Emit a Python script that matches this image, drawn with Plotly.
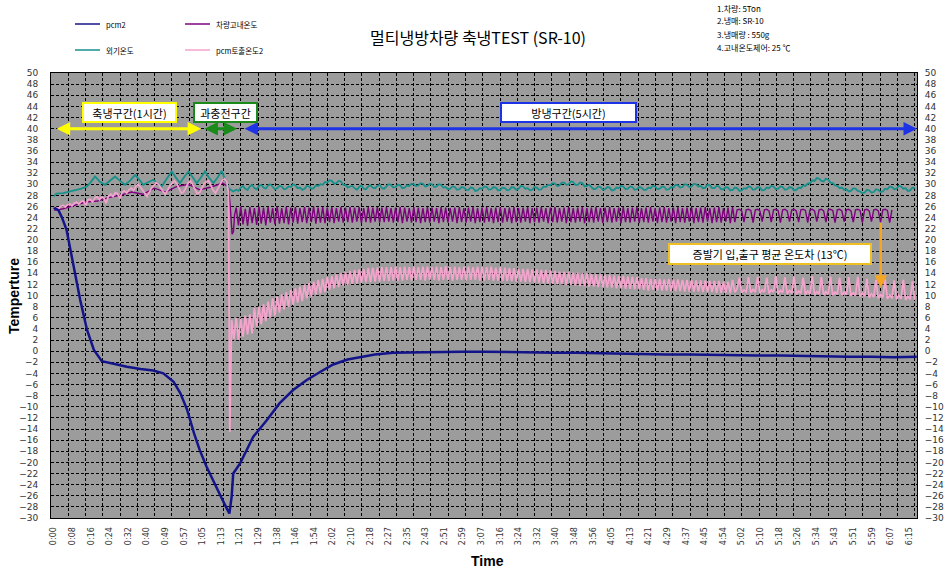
import plotly.graph_objects as go

# ---------------- data (time in minutes) ----------------
x_tick_labels = ["0:00","0:08","0:16","0:24","0:32","0:40","0:49","0:57","1:05","1:13","1:21","1:29",
                 "1:38","1:46","1:54","2:02","2:10","2:18","2:27","2:35","2:43","2:51","2:59","3:07",
                 "3:16","3:24","3:32","3:40","3:48","3:56","4:05","4:13","4:21","4:29","4:37","4:45",
                 "4:54","5:02","5:10","5:18","5:26","5:34","5:43","5:51","5:59","6:07","6:15"]
x_tick_minutes = [i * 490 / 60 for i in range(len(x_tick_labels))]
y_ticks = list(range(-30, 51, 2))

# pcm2 (navy)
pcm2_t = [0, 0.6, 2.1, 3.6, 5.6, 8.6, 11.6, 14.6, 17.6, 21.1, 26.1, 32.1, 38.1, 43.6, 48.1, 52.6, 55.6,
          58.6, 61.6, 64.1, 67.1, 70.1, 73.1, 75.6, 77.1, 78.1, 78.8, 81.8, 87.6, 93.6, 99.1, 105.1,
          111.1, 117.1, 122.7, 129, 135, 141, 149, 159, 169, 179, 189, 199, 209, 219, 229, 239, 249,
          259, 269, 279, 289, 299, 309, 319, 329, 339, 349, 359, 369, 379]
pcm2_v = [25.5, 25.7, 25.3, 24.0, 21.8, 15.2, 9.2, 3.8, 0.2, -1.8, -2.3, -2.8, -3.2, -3.5, -4.0, -5.5,
          -7.6, -10.6, -14.8, -17.8, -20.8, -23.5, -25.9, -28.0, -29.2, -26.2, -22.0, -20.2, -15.4,
          -12.4, -9.4, -7.0, -5.2, -3.7, -2.4, -1.5, -1.0, -0.6, -0.3, -0.2, -0.1, -0.1, -0.1, -0.2,
          -0.2, -0.3, -0.3, -0.4, -0.5, -0.5, -0.6, -0.6, -0.7, -0.7, -0.8, -0.8, -0.9, -0.9, -1.0,
          -1.0, -1.1, -1.0]

# 외기온도 (teal)
outdoor_t1 = [0, 1.1, 4.1, 7.1, 10.1, 12.1, 14.5, 16.1, 18.1, 20.1, 22.5, 24.6, 26.9, 29.1, 31.3, 33.6,
              35.7, 37.6, 39.3, 41.6, 43.7, 45.6, 47.4, 49.6, 51.8, 53.6, 55.4, 57.1, 59.1, 61.1, 62.8,
              64.6, 66.4, 68.1, 70.1, 72.1, 73.7, 75.1, 76.7, 78.8]
outdoor_v1 = [27.8, 28.3, 28.4, 28.7, 29.0, 29.2, 29.6, 30.3, 31.4, 30.5, 29.9, 30.6, 31.4, 30.6, 29.9,
              30.7, 31.7, 30.8, 29.9, 30.4, 30.8, 30.2, 29.6, 31.0, 32.3, 31.2, 30.2, 31.2, 32.3, 31.2,
              30.2, 31.2, 32.3, 31.2, 30.2, 31.3, 32.4, 31.0, 29.3, 28.7]
outdoor_start2, outdoor_step2 = 80.1, 1
outdoor_v2 = [29.0, 28.8, 29.4, 29.7, 29.2, 29.0, 29.6, 29.9, 29.3, 29.1, 29.7, 29.9, 29.4, 29.2, 29.8, 30.0, 29.5, 29.1, 29.3, 29.7,
              29.6, 29.1, 29.2, 29.6, 29.5, 30.0, 29.8, 29.3, 29.4, 29.0, 29.2, 29.7, 29.6, 29.2, 29.3, 29.8, 29.7, 30.0, 29.9, 30.4,
              30.3, 30.7, 30.6, 30.1, 30.2, 30.6, 30.5, 29.9, 29.9, 29.4, 29.6, 29.7, 29.3, 29.0, 29.5, 29.8, 29.2, 29.1, 29.6, 29.8,
              29.4, 29.3, 29.7, 29.9, 29.3, 29.2, 29.6, 30.0, 29.9, 29.4, 29.5, 29.9, 29.8, 29.3, 29.4, 29.8, 29.7, 30.1, 30.0, 29.7,
              29.8, 30.2, 30.1, 29.6, 29.7, 30.1, 30.0, 29.5, 29.6, 30.0, 29.9, 29.4, 29.5, 29.1, 29.2, 29.6, 29.5, 29.0, 29.1, 29.5,
              29.4, 29.0, 29.0, 29.4, 29.3, 28.8, 28.9, 29.3, 29.2, 29.6, 29.5, 29.0, 29.1, 29.5, 29.4, 28.9, 29.0, 29.4, 29.3, 28.9,
              29.0, 29.5, 29.4, 29.0, 29.2, 29.7, 29.6, 29.2, 29.3, 28.9, 29.0, 29.5, 29.4, 29.0, 29.1, 29.6, 29.5, 29.9, 29.8, 30.2,
              30.1, 29.7, 29.8, 30.3, 30.3, 29.9, 30.0, 30.5, 30.4, 29.9, 29.9, 30.3, 30.2, 29.6, 29.7, 29.9, 29.5, 29.1, 29.2, 29.6,
              29.5, 29.0, 29.1, 29.5, 29.4, 28.9, 29.0, 29.4, 29.3, 29.7, 29.6, 29.1, 29.2, 29.6, 29.5, 29.0, 29.1, 29.5, 29.4, 29.0,
              29.0, 29.4, 29.3, 29.7, 29.6, 29.1, 29.2, 29.6, 29.5, 29.0, 29.1, 29.5, 29.4, 29.9, 29.8, 29.4, 29.5, 30.0, 29.9, 29.5,
              29.6, 30.1, 30.0, 29.6, 29.7, 29.3, 29.4, 29.9, 29.8, 29.3, 29.3, 29.7, 29.6, 29.1, 29.1, 29.5, 29.4, 28.9, 29.0, 29.4,
              29.3, 28.8, 28.9, 29.3, 29.2, 29.6, 29.5, 29.0, 29.1, 29.5, 29.4, 28.9, 29.0, 29.4, 29.3, 29.7, 29.6, 29.1, 29.2, 29.6,
              29.5, 29.0, 29.1, 29.5, 29.4, 28.9, 29.0, 29.4, 29.3, 29.8, 29.7, 30.1, 30.2, 30.7, 30.6, 31.1, 31.0, 30.6, 30.5, 31.0,
              30.8, 30.3, 30.2, 29.8, 29.7, 29.3, 29.4, 29.0, 29.1, 28.7, 28.8, 29.3, 29.2, 28.8, 28.7, 28.4, 28.5, 29.0, 28.9, 28.5,
              28.6, 29.1, 29.0, 28.6, 28.7, 29.2, 29.1, 29.6, 29.5, 29.1, 29.2, 29.7, 29.6, 29.2, 29.3, 28.8, 28.9, 29.4, 29.3]

# pcm토출온도2 (pink)
pink_start1 = 0
pink_v1 = [25.4, 25.8, 25.6, 26.0, 26.2, 25.9, 26.3, 26.5, 26.1, 26.6, 26.8, 26.4, 26.9, 27.0, 26.2,
           27.2, 27.3, 26.8, 27.5, 27.8, 27.2, 27.7, 27.5, 26.6, 27.9, 28.2, 27.8, 28.5, 28.3, 27.4,
           28.6, 28.8, 28.4, 29.0, 29.3, 28.9, 29.6, 30.0, 29.5, 28.9, 28.4, 27.8, 28.6, 29.4, 29.8,
           30.3, 30.0, 29.3, 28.7, 28.2, 29.0, 29.7, 30.2, 30.6, 30.1, 29.2, 28.4, 28.6, 29.5, 30.2,
           30.6, 30.0, 29.1, 28.3, 28.5, 29.4, 30.1, 30.5, 30.6, 29.8, 28.9, 28.4, 29.2, 30.1, 30.7,
           31.0, 30.4]
pink_drop_t = [76.7, 77.3]
pink_drop_v = [28.5, -14.5]
pink_start2 = 78.1
pink_v2 = [5.6, 2.2, 6.0, 2.0, 5.8, 2.6, 6.4, 3.0, 6.6, 3.2,
           7.7, 4.4, 8.0, 4.8, 8.4, 5.4, 8.9, 6.0, 9.5, 6.3,
           9.8, 6.9, 10.2, 7.5, 10.6, 7.9, 11.0, 8.3, 11.3, 8.7,
           11.6, 9.0, 11.9, 9.5, 12.2, 9.8, 12.5, 10.2, 12.8, 10.4,
           13.0, 10.6, 13.3, 11.0, 13.5, 11.3, 13.8, 11.5, 14.0, 11.8,
           14.2, 11.9, 14.4, 12.1, 14.6, 12.2, 14.7, 12.3, 14.8, 12.4,
           14.9, 12.4, 15.0, 12.5, 15.0, 12.5, 15.1, 12.6, 15.1, 12.6,
           15.1, 12.7, 15.2, 12.6, 15.1, 12.7, 15.2, 12.8, 15.1, 12.7,
           15.2, 12.8, 15.1, 12.8, 15.2, 12.7, 15.2, 12.8, 15.1, 12.8,
           15.2, 12.7, 15.1, 12.8, 15.3, 12.8, 15.1, 12.7, 15.2, 12.8,
           15.1, 12.8, 15.2, 12.7, 15.2, 12.8, 15.1, 12.8, 15.2, 12.7,
           15.1, 12.7, 15.1, 12.8, 15.2, 12.7, 15.0, 12.7, 15.1, 12.6,
           15.0, 12.6, 14.9, 12.6, 14.9, 12.5, 14.8, 12.5, 14.8, 12.4,
           14.8, 12.4, 14.7, 12.3, 14.7, 12.3, 14.6, 12.2, 14.6, 12.2,
           14.5, 12.1, 14.4, 12.0, 14.3, 12.0, 14.3, 11.9, 14.2, 11.9,
           14.1, 11.8, 14.1, 11.7, 14.0, 11.7, 14.0, 11.6, 13.9, 11.6,
           13.8, 11.5, 13.8, 11.5, 13.7, 11.4, 13.7, 11.4, 13.6, 11.3,
           13.5, 11.3, 13.5, 11.2, 13.4, 11.2, 13.4, 11.1, 13.3, 11.1,
           13.1, 11.0, 13.1, 10.9, 13.0, 11.0, 13.0, 10.9, 13.0, 10.9,
           12.9, 10.9, 13.0, 10.8, 12.9, 10.8, 12.9, 10.8, 12.8, 10.7,
           12.8, 10.7, 12.8, 10.7, 12.7, 10.7, 12.7, 10.6, 12.7, 10.6,
           12.6, 10.6, 12.6, 10.5, 12.6, 10.5, 12.5, 10.5, 12.5, 10.4,
           12.8, 10.6, 11.2, 13.2, 10.5, 11.0, 10.7, 13.3, 10.5, 11.1,
           10.6, 13.4, 10.4, 11.0, 10.6, 13.2, 10.4, 11.0, 10.6, 13.5,
           10.3, 10.9, 10.5, 13.3, 10.3, 10.9, 10.4, 13.4, 10.2, 10.8,
           10.4, 13.2, 10.2, 10.8, 10.3, 13.5, 10.1, 10.7, 10.3, 13.3,
           10.1, 10.7, 10.2, 13.4, 10.0, 10.6, 10.2, 13.2, 10.0, 10.6,
           10.1, 13.3, 9.9, 10.5, 10.0, 13.4, 9.8, 10.4, 9.9, 13.0,
           9.6, 10.3, 9.7, 12.8, 9.5, 10.2, 9.6, 12.9, 9.4, 10.1,
           9.5, 12.7, 9.3, 10.0, 9.4, 12.8, 9.2, 9.9, 9.3, 12.6,
           9.2]

# 차량고내온도 (purple)
cabin_t1 = [0, 4.1, 9.1, 14.1, 19.1, 24.1, 29.1, 34.1, 39.1, 44.1, 49.1, 54.1, 59.1, 64.1, 69.1, 74.1,
            76.7, 77.5, 78.3, 78.9, 79.4]
cabin_v1 = [25.3, 25.6, 26.2, 26.8, 27.0, 27.6, 28.0, 28.6, 28.2, 29.3, 28.6, 29.6, 30.0, 29.0, 29.5,
            30.2, 29.5, 26.0, 21.0, 21.5, 24.5]
cabin_start2 = 80.1
cabin_v2 = [25.8, 22.6, 26.0, 22.8, 25.6, 22.5, 25.9, 23.0, 25.7, 22.7,
            26.0, 22.9, 25.8, 22.6, 25.9, 23.1, 25.7, 22.8, 26.0, 22.9,
            25.7, 23.0, 25.9, 22.8, 25.8, 23.1, 25.9, 22.9, 25.7, 23.2,
            25.9, 23.0, 25.8, 23.2, 26.0, 22.9, 25.8, 23.1, 25.9, 23.0,
            25.8, 23.2, 25.9, 23.0, 25.7, 23.3, 25.9, 23.1, 25.8, 23.2,
            25.9, 23.1, 25.8, 23.3, 25.9, 23.0, 25.7, 23.2, 25.9, 23.1,
            25.8, 23.3, 25.9, 23.1, 25.8, 23.2, 25.9, 23.3, 25.7, 23.1,
            25.8, 23.2, 25.9, 23.0, 25.8, 23.3, 25.7, 23.1, 25.9, 23.2,
            25.8, 23.0, 25.7, 23.2, 25.9, 23.1, 25.8, 23.3, 25.7, 23.0,
            25.9, 23.2, 25.8, 23.1, 25.7, 23.3, 25.8, 23.0, 25.9, 23.2,
            25.7, 23.1, 25.8, 23.3, 25.9, 23.0, 25.7, 23.2, 25.8, 23.1,
            25.9, 23.3, 25.7, 23.0, 25.8, 23.2, 25.9, 23.1, 25.7, 23.3,
            25.8, 23.0, 25.9, 23.2, 25.7, 23.1, 25.8, 23.3, 25.9, 23.0,
            25.7, 23.2, 25.8, 23.1, 25.9, 23.3, 25.7, 23.0, 25.8, 23.2,
            25.9, 23.1, 25.7, 23.3, 25.8, 23.0, 25.9, 23.2, 25.7, 23.1,
            25.8, 23.3, 25.9, 23.0, 25.7, 23.2, 25.8, 23.1, 25.9, 23.3,
            25.7, 23.0, 25.8, 23.2, 25.9, 23.1, 25.7, 23.3, 25.8, 23.0,
            25.9, 23.2, 25.7, 23.1, 25.8, 23.3, 25.9, 23.0, 25.7, 23.2,
            25.8, 23.1, 25.9, 23.3, 25.7, 23.0, 25.8, 23.2, 25.9, 23.1,
            25.7, 23.3, 25.8, 23.0, 25.9, 23.2, 25.7, 23.1, 25.8, 23.3,
            25.9, 23.0, 25.7, 23.2, 25.8, 23.1, 25.9, 23.3, 25.7, 23.0,
            25.8, 23.2, 25.9, 23.1, 25.7, 23.3, 25.8, 23.0, 25.9, 23.2,
            25.4, 25.5, 25.2, 23.2, 25.4, 25.5, 25.3, 23.1, 25.4, 25.5,
            25.2, 23.3, 25.4, 25.5, 25.2, 23.2, 25.4, 25.5, 25.3, 23.1,
            25.4, 25.5, 25.2, 23.3, 25.4, 25.5, 25.2, 23.2, 25.4, 25.5,
            25.3, 23.1, 25.4, 25.5, 25.2, 23.3, 25.4, 25.5, 25.2, 23.2,
            25.4, 25.5, 25.3, 23.1, 25.4, 25.5, 25.2, 23.3, 25.4, 25.5,
            25.2, 23.2, 25.4, 25.5, 25.3, 23.1, 25.4, 25.5, 25.2, 23.3,
            25.4, 25.5, 25.2, 23.2, 25.4, 25.5, 25.3, 23.1, 25.4]

# ---------------- build ----------------
def grid(start, step, values):
    return [start + step * i for i in range(len(values))]

NAVY, PURPLE, TEAL, PINK = "#14148a", "#800080", "#17918c", "#f4a3cc"
KFONT = "Noto Sans CJK KR"
L, R, T, B = 51, 917, 73, 518          # plot area in pixels
PW, PH = R - L, B - T
X_RANGE = [-1.23, 379.1]

def px(x):
    return (x - L) / PW

def py(y):
    return (B - y) / PH

fig = go.Figure()
fig.add_trace(go.Scatter(x=cabin_t1 + grid(cabin_start2, 1, cabin_v2), y=cabin_v1 + cabin_v2,
                         mode="lines", line=dict(color=PURPLE, width=1.4), name="차량고내온도"))
fig.add_trace(go.Scatter(x=outdoor_t1 + grid(outdoor_start2, outdoor_step2, outdoor_v2),
                         y=outdoor_v1 + outdoor_v2, mode="lines",
                         line=dict(color=TEAL, width=1.8), name="외기온도"))
fig.add_trace(go.Scatter(x=grid(pink_start1, 1, pink_v1) + pink_drop_t + grid(pink_start2, 1, pink_v2),
                         y=pink_v1 + pink_drop_v + pink_v2, mode="lines",
                         line=dict(color=PINK, width=1.8), name="pcm토출온도2"))
fig.add_trace(go.Scatter(x=pcm2_t, y=pcm2_v, mode="lines", line=dict(color=NAVY, width=2.5),
                         name="pcm2"))
fig.add_trace(go.Scatter(x=[0], y=[0], yaxis="y2", mode="markers", marker=dict(opacity=0),
                         showlegend=False, hoverinfo="skip"))

GRID = dict(gridcolor="black", griddash="3px,2px", gridwidth=1)
tickfont = dict(family="DejaVu Sans", size=9, color="#333333")

fig.update_layout(
    width=952, height=573,
    margin=dict(l=L, r=952 - R, t=T, b=573 - B, autoexpand=False),
    paper_bgcolor="white", plot_bgcolor="#9c9c9c",
    showlegend=False,
    xaxis=dict(range=X_RANGE, tickmode="array", tickvals=x_tick_minutes, automargin=False,
               ticktext=x_tick_labels, tickangle=-90,
               tickfont=dict(family="DejaVu Sans", size=8, color="#333333"),
               showgrid=False, zeroline=False, showline=True, linecolor="black", mirror=True,
               ticks="outside", ticklen=5, tickcolor="rgba(0,0,0,0)",
               minor=dict(tickmode="linear", tick0=X_RANGE[0], dtick=7.585, showgrid=True, **GRID)),
    yaxis=dict(range=[-30, 50], tickmode="array", tickvals=y_ticks, tickfont=tickfont, automargin=False,
               showgrid=True, **GRID, zeroline=False, showline=True, linecolor="black", mirror=True,
               ticks="outside", ticklen=10, tickcolor="rgba(0,0,0,0)"),
    yaxis2=dict(overlaying="y", side="right", matches="y", tickmode="array", tickvals=y_ticks,
                tickfont=tickfont, showgrid=False, zeroline=False, automargin=False,
                ticks="outside", ticklen=5, tickcolor="rgba(0,0,0,0)"),
)

annotations = []
def note(x, y, text, size, family=KFONT, xanchor="center", angle=0):
    annotations.append(dict(xref="paper", yref="paper", x=px(x), y=py(y), text=text,
                            showarrow=False, xanchor=xanchor, yanchor="middle", textangle=angle,
                            font=dict(family=family, size=size, color="black")))

note(478, 37, "멀티냉방차량 축냉TEST (SR-10)", 16)
note(487, 561, "<b>Time</b>", 14, family="Liberation Sans")
note(14, 296, "<b>Temperture</b>", 14, family="Liberation Sans", angle=-90)
for i, s in enumerate(["1.차량: 5Ton", "2.냉매: SR-10", "3.냉매량 : 550g", "4.고내온도제어: 25 ℃"]):
    note(715, 8 + 13 * i, s, 8, xanchor="left")
shapes = []
legend_items = [("pcm2", NAVY, 75, 24), ("차량고내온도", PURPLE, 185, 24),
                ("외기온도", TEAL, 75, 50), ("pcm토출온도2", PINK, 185, 50)]
for name, col, lx, ly in legend_items:
    shapes.append(dict(type="line", xref="paper", yref="paper", x0=px(lx), x1=px(lx + 25),
                       y0=py(ly), y1=py(ly), line=dict(color=col, width=1.5)))
    note(lx + 29, ly, name, 7.5, xanchor="left")

for x0, x1, col in [(0.6, 64.7, "#ffff00"), (65.5, 80.5, "#1a8a1a"), (83.1, 379.1, "#1e32e6")]:
    annotations.append(dict(x=x1, y=40, ax=x0, ay=40, xref="x", yref="y", axref="x", ayref="y",
                            text="", showarrow=True, arrowhead=2, arrowside="end+start",
                            arrowsize=0.9, arrowwidth=3, arrowcolor=col))
for txt, cx, col, w in [("축냉구간(1시간)", 33.3, "#ffff00", 89), ("과충전구간", 75.4, "#1a8a1a", 59),
                        ("방냉구간(5시간)", 226.0, "#1e32e6", 131)]:
    annotations.append(dict(x=cx, y=42.9, xref="x", yref="y", text=txt, showarrow=False,
                            bgcolor="white", bordercolor=col, borderwidth=2, borderpad=1,
                            width=w, height=15, font=dict(family=KFONT, size=11, color="black")))
annotations.append(dict(x=363.2, y=11.4, ax=363.2, ay=23.3, xref="x", yref="y", axref="x", ayref="y",
                        text="", showarrow=True, arrowhead=2, arrowsize=1, arrowwidth=2.5,
                        arrowcolor="#f5a623"))
annotations.append(dict(x=314.4, y=17.46, xref="x", yref="y", text="증발기 입,출구 평균 온도차 (13℃)",
                        showarrow=False, bgcolor="white", bordercolor="#f0c020", borderwidth=2,
                        borderpad=1, width=198, height=16, font=dict(family=KFONT, size=11, color="black")))

fig.update_layout(annotations=annotations, shapes=shapes)
fig.write_html("out.html", post_script="document.body.style.margin='0';",
               config={"displayModeBar": False})
